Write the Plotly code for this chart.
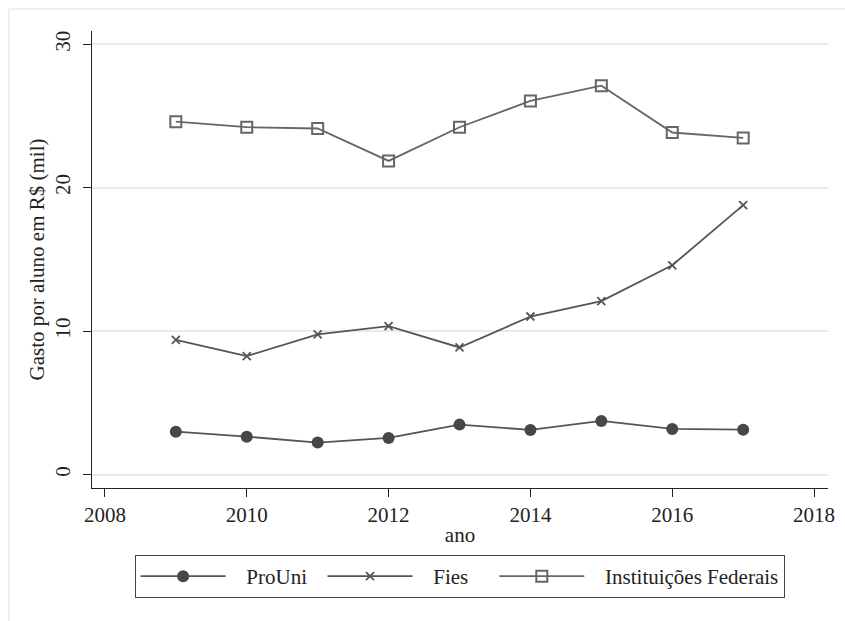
import plotly.graph_objects as go

anos = [2009, 2010, 2011, 2012, 2013, 2014, 2015, 2016, 2017]
prouni = [2.99, 2.64, 2.23, 2.55, 3.48, 3.11, 3.74, 3.18, 3.13]
fies = [9.39, 8.26, 9.77, 10.35, 8.86, 11.02, 12.09, 14.59, 18.79]
federais = [24.61, 24.22, 24.13, 21.87, 24.22, 26.05, 27.12, 23.85, 23.47]

x_ticks = [2008, 2010, 2012, 2014, 2016, 2018]
y_ticks = [0, 10, 20, 30]

FONT = "Liberation Serif, Times New Roman, serif"
FS = 21
TXT = "#222222"
NB = "\u00a0"

fig = go.Figure()
fig.add_trace(go.Scatter(
    x=anos, y=prouni, name=NB * 3 + "ProUni" + NB * 2, mode="lines+markers",
    line=dict(color="#555555", width=1.8),
    marker=dict(symbol="circle", size=12, color="#474747"),
))
fig.add_trace(go.Scatter(
    x=anos, y=fies, name=NB * 3 + "Fies" + NB * 4, mode="lines+markers",
    line=dict(color="#555555", width=1.8),
    marker=dict(symbol="x-thin", size=8, color="#555555",
                line=dict(color="#555555", width=1.8)),
))
fig.add_trace(go.Scatter(
    x=anos, y=federais, name=NB * 3 + "Instituições Federais", mode="lines+markers",
    line=dict(color="#666666", width=1.8),
    marker=dict(symbol="square-open", size=11, color="#666666",
                line=dict(color="#666666", width=2)),
))

L, R, T, B = 92, 10, 31, 133
W, H = 845, 621
pw = W - L - R
ph = H - T - B

def px2paperx(px):
    return (px - L) / pw

def py2papery(py):
    return (H - B - py) / ph

fig.add_shape(type="rect", xref="paper", yref="paper",
              x0=px2paperx(8), x1=px2paperx(900),
              y0=py2papery(700), y1=py2papery(9),
              line=dict(color="#e2e2e2", width=1), layer="below")

tickfont = dict(family=FONT, size=FS, color=TXT)

fig.update_layout(
    width=W, height=H,
    margin=dict(l=L, r=R, t=T, b=B),
    paper_bgcolor="white", plot_bgcolor="white",
    font=dict(family=FONT, size=FS, color=TXT),
    showlegend=True,
    legend=dict(
        orientation="h", x=px2paperx(135), xanchor="left",
        y=py2papery(555), yanchor="top",
        bordercolor="#444444", borderwidth=1,
        font=dict(family=FONT, size=FS, color=TXT),
        itemwidth=85, bgcolor="white",
    ),
    xaxis=dict(
        range=[2007.818, 2018.196], tickvals=x_ticks,
        tickfont=tickfont,
        showgrid=False, zeroline=False,
        showline=True, linecolor="#222222", linewidth=1.3,
        ticks="outside", ticklen=8, tickwidth=1.3, tickcolor="#222222",
        title=dict(text="ano", standoff=0,
                   font=dict(family=FONT, size=FS, color=TXT)),
    ),
    yaxis=dict(
        range=[-0.94, 30.93], tickvals=y_ticks, tickangle=-90,
        tickfont=tickfont, ticklabelstandoff=4,
        showgrid=True, gridcolor="#eaeaea", gridwidth=1.5, zeroline=False,
        showline=True, linecolor="#222222", linewidth=1.3,
        ticks="outside", ticklen=8, tickwidth=1.3, tickcolor="#222222",
        title=dict(text="Gasto por aluno em R$ (mil)", standoff=1,
                   font=dict(family=FONT, size=FS, color=TXT)),
    ),
)

fig.write_html("out.html",
               config={"displayModeBar": False},
               post_script="document.body.style.margin='0px';document.body.style.overflow='hidden';")
